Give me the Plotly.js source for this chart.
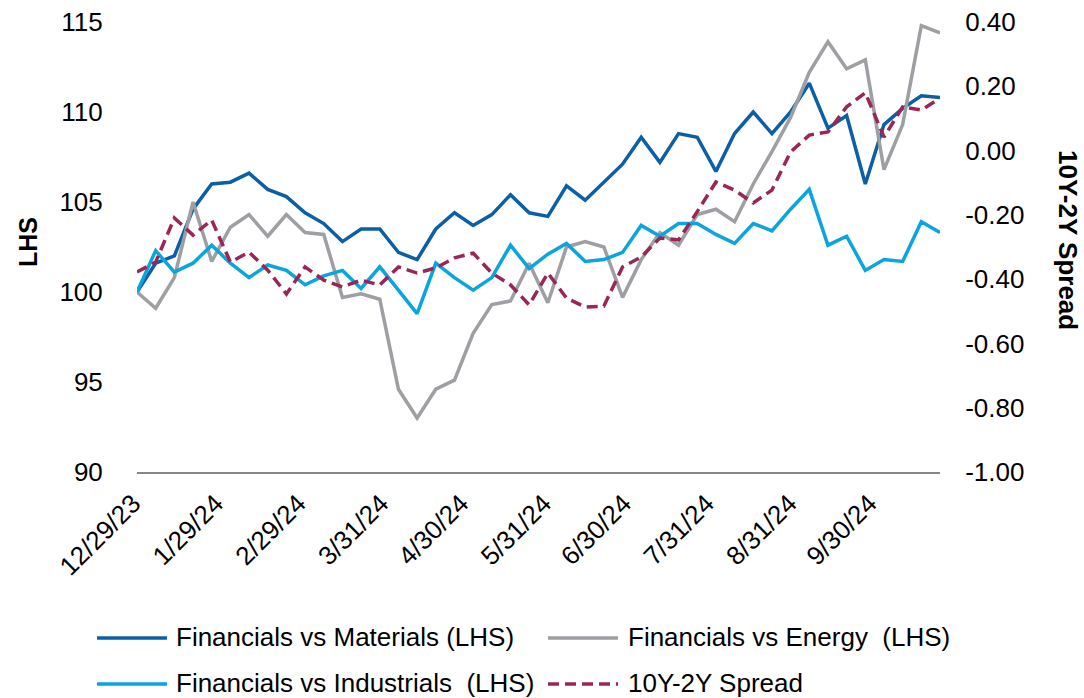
<!DOCTYPE html>
<html>
<head>
<meta charset="utf-8">
<script src="https://cdn.plot.ly/plotly-3.0.1.min.js"></script>
<style>html,body{margin:0;padding:0;background:#fff;}#chart{width:1084px;height:698px;}</style>
</head>
<body>
<div id="chart"></div>
<script>
const dates = ["2023-12-29","2024-01-05","2024-01-12","2024-01-19","2024-01-26","2024-02-02","2024-02-09","2024-02-16","2024-02-23","2024-03-01","2024-03-08","2024-03-15","2024-03-22","2024-03-29","2024-04-05","2024-04-12","2024-04-19","2024-04-26","2024-05-03","2024-05-10","2024-05-17","2024-05-24","2024-05-31","2024-06-07","2024-06-14","2024-06-21","2024-06-28","2024-07-05","2024-07-12","2024-07-19","2024-07-26","2024-08-02","2024-08-09","2024-08-16","2024-08-23","2024-08-30","2024-09-06","2024-09-13","2024-09-20","2024-09-27","2024-10-04","2024-10-11","2024-10-18","2024-10-25"];

const materials = [100.0,101.6,102.0,104.6,106.0,106.1,106.6,105.7,105.3,104.4,103.8,102.8,103.5,103.5,102.2,101.8,103.5,104.4,103.7,104.3,105.4,104.4,104.2,105.9,105.1,106.1,107.1,108.6,107.2,108.8,108.6,106.7,108.8,110.0,108.8,110.0,111.6,109.1,109.8,106.0,109.3,110.2,110.9,110.8];
const energy = [100.0,99.1,100.8,105.0,101.7,103.6,104.3,103.1,104.3,103.3,103.2,99.7,99.9,99.6,94.6,93.0,94.6,95.1,97.7,99.3,99.5,101.6,99.4,102.5,102.8,102.5,99.7,101.8,103.3,102.6,104.3,104.6,103.9,106.0,107.8,109.7,112.2,113.9,112.4,112.9,106.8,109.3,114.8,114.4];
const industrials = [100.0,102.3,101.1,101.6,102.6,101.6,100.8,101.5,101.2,100.4,100.9,101.2,100.2,101.4,100.1,98.8,101.6,100.8,100.1,100.8,102.6,101.3,102.1,102.7,101.7,101.8,102.2,103.7,103.1,103.8,103.8,103.2,102.7,103.8,103.4,104.6,105.7,102.6,103.1,101.2,101.8,101.7,103.9,103.3];
const spread = [-0.378,-0.347,-0.21,-0.263,-0.216,-0.347,-0.316,-0.372,-0.446,-0.362,-0.403,-0.424,-0.403,-0.418,-0.362,-0.381,-0.365,-0.334,-0.319,-0.381,-0.418,-0.48,-0.381,-0.459,-0.487,-0.484,-0.362,-0.331,-0.272,-0.278,-0.19,-0.098,-0.123,-0.163,-0.123,-0.004,0.048,0.058,0.136,0.18,0.042,0.136,0.126,0.163];

const xTickVals = ["2023-12-29","2024-01-29","2024-02-29","2024-03-31","2024-04-30","2024-05-31","2024-06-30","2024-07-31","2024-08-31","2024-09-30"];
const xTickText = ["12/29/23","1/29/24","2/29/24","3/31/24","4/30/24","5/31/24","6/30/24","7/31/24","8/31/24","9/30/24"];
const y2TickVals = [-1.0,-0.8,-0.6,-0.4,-0.2,0.0,0.2,0.4];
const y2TickText = ["-1.00","-0.80","-0.60","-0.40","-0.20","0.00","0.20","0.40"];

const seriesNames = ["Financials vs Materials (LHS)","Financials vs Energy  (LHS)","Financials vs Industrials  (LHS)","10Y-2Y Spread"];
const colors = ["#0A5FA6","#9D9FA3","#0AA5DF","#9A2657"];
const FONT = "Liberation Sans, Arial, sans-serif";

const traces = [
  {x: dates, y: materials, name: seriesNames[0], type: "scatter", mode: "lines", line: {color: colors[0], width: 3.5}, yaxis: "y"},
  {x: dates, y: energy, name: seriesNames[1], type: "scatter", mode: "lines", line: {color: colors[1], width: 3.5}, yaxis: "y"},
  {x: dates, y: industrials, name: seriesNames[2], type: "scatter", mode: "lines", line: {color: colors[2], width: 3.5}, yaxis: "y"},
  {x: dates, y: spread, name: seriesNames[3], type: "scatter", mode: "lines", line: {color: colors[3], width: 3.5, dash: "11px,6px"}, yaxis: "y2"}
];

// plot area in pixels: x 137..940, y 22..472
const PL = 137, PR = 940, PT = 22, PB = 472;
const px = v => (v - PL) / (PR - PL);
const py = v => (PB - v) / (PB - PT);

const legendItems = [
  {i: 0, lx: 97, tx: 174, y: 638},
  {i: 1, lx: 548, tx: 626, y: 638},
  {i: 2, lx: 97, tx: 174, y: 684},
  {i: 3, lx: 548, tx: 626, y: 684}
];

const shapes = legendItems.map(it => ({
  type: "line", xref: "paper", yref: "paper",
  x0: px(it.lx), x1: px(it.lx + 70), y0: py(it.y), y1: py(it.y),
  line: {color: colors[it.i], width: 3.5, dash: it.i === 3 ? "11px,6px" : "solid"}
}));

const annotations = legendItems.map(it => ({
  text: seriesNames[it.i], xref: "paper", yref: "paper",
  x: px(it.tx), y: py(it.y - 1), xanchor: "left", yanchor: "middle",
  showarrow: false, font: {family: FONT, size: 26, color: "#000"}
}));

annotations.push({
  text: "<b>LHS</b>", xref: "paper", yref: "paper", x: px(28), y: py(242),
  xanchor: "center", yanchor: "middle", textangle: -90, showarrow: false,
  font: {family: FONT, size: 25, color: "#000"}
});
annotations.push({
  text: "<b>10Y-2Y Spread</b>", xref: "paper", yref: "paper", x: px(1068), y: py(240),
  xanchor: "center", yanchor: "middle", textangle: 90, showarrow: false,
  font: {family: FONT, size: 26, color: "#000"}
});

const layout = {
  width: 1084, height: 698,
  margin: {l: PL, r: 1084 - PR, t: PT, b: 698 - PB},
  paper_bgcolor: "#fff", plot_bgcolor: "#fff",
  showlegend: false,
  font: {family: FONT, size: 26, color: "#000"},
  xaxis: {
    type: "date", range: [dates[0], dates[dates.length - 1]],
    tickmode: "array", tickvals: xTickVals, ticktext: xTickText, tickangle: -45,
    tickfont: {family: FONT, size: 26, color: "#000"},
    showline: true, linecolor: "#878787", linewidth: 2,
    showgrid: false, zeroline: false,
    ticks: "outside", ticklen: 4, tickcolor: "rgba(0,0,0,0)",
    ticklabelshift: -4
  },
  yaxis: {
    range: [90, 115], tick0: 90, dtick: 5,
    tickfont: {family: FONT, size: 26, color: "#000"},
    showline: false, showgrid: false, zeroline: false,
    ticks: "outside", ticklen: 28, tickcolor: "rgba(0,0,0,0)"
  },
  yaxis2: {
    overlaying: "y", side: "right", range: [-1.0, 0.4],
    tickmode: "array", tickvals: y2TickVals, ticktext: y2TickText,
    tickfont: {family: FONT, size: 26, color: "#000"},
    showline: false, showgrid: false, zeroline: false,
    ticks: "outside", ticklen: 19, tickcolor: "rgba(0,0,0,0)"
  },
  shapes: shapes,
  annotations: annotations
};

Plotly.newPlot("chart", traces, layout, {displayModeBar: false, staticPlot: true});
</script>
</body>
</html>
